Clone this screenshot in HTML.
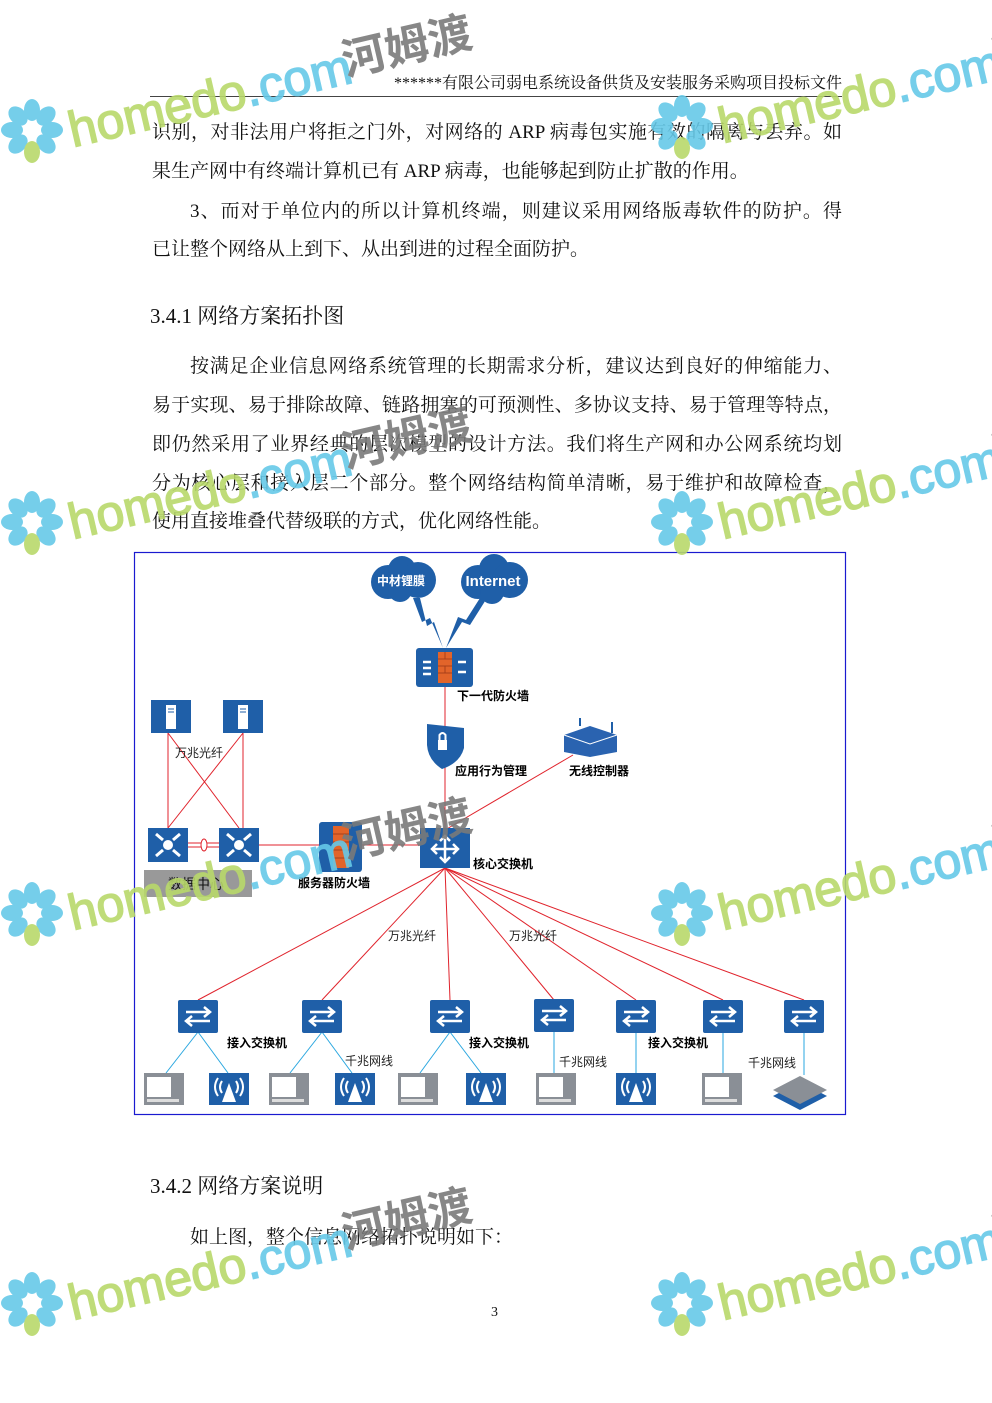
<!DOCTYPE html>
<html><head><meta charset="utf-8">
<style>
html,body{margin:0;padding:0;background:#fff;}
body{width:992px;height:1403px;position:relative;overflow:hidden;font-family:"Liberation Serif","Noto Serif CJK SC",serif;color:#111;}
.t{position:absolute;left:152px;width:690px;font-size:19px;line-height:22px;white-space:nowrap;}
.j{text-align:justify;text-align-last:justify;}
.hd{position:absolute;right:150px;top:74px;font-size:16px;line-height:20px;}
.rule{position:absolute;left:150px;width:692px;top:96px;height:0;border-top:1.5px solid #444;}
.h{position:absolute;left:150px;font-size:21px;line-height:24px;}
svg{position:absolute;left:0;top:0;}
svg text{font-family:"Liberation Sans","Noto Sans CJK SC",sans-serif;}
</style></head><body>
<div class="hd">******有限公司弱电系统设备供货及安装服务采购项目投标文件</div>
<div class="rule"></div>
<div class="t j" style="top:122px">识别，对非法用户将拒之门外，对网络的 ARP 病毒包实施有效的隔离与丢弃。如</div>
<div class="t" style="top:161px">果生产网中有终端计算机已有 ARP 病毒，也能够起到防止扩散的作用。</div>
<div class="t j" style="top:201px;left:190px;width:652px">3、而对于单位内的所以计算机终端，则建议采用网络版毒软件的防护。得</div>
<div class="t" style="top:239px">已让整个网络从上到下、从出到进的过程全面防护。</div>
<div class="h" style="top:304px">3.4.1 网络方案拓扑图</div>
<div class="t j" style="top:356px;left:190px;width:652px">按满足企业信息网络系统管理的长期需求分析，建议达到良好的伸缩能力、</div>
<div class="t j" style="top:395px">易于实现、易于排除故障、链路拥塞的可预测性、多协议支持、易于管理等特点，</div>
<div class="t j" style="top:434px">即仍然采用了业界经典的层次模型的设计方法。我们将生产网和办公网系统均划</div>
<div class="t j" style="top:473px">分为核心层和接入层二个部分。整个网络结构简单清晰，易于维护和故障检查，</div>
<div class="t" style="top:511px">使用直接堆叠代替级联的方式，优化网络性能。</div>
<div class="h" style="top:1174px">3.4.2 网络方案说明</div>
<div class="t" style="top:1227px;left:190px">如上图，整个信息网络拓扑说明如下：</div>
<div style="position:absolute;left:491px;top:1305px;font-size:14px">3</div>

<svg width="992" height="1403" viewBox="0 0 992 1403">
<defs>
<g id="sw"><rect x="0" y="0" width="40" height="33" rx="2" fill="#1f5fa8"/>
<path d="M8 12 H32 M26 7 L32 12 L26 17 M32 21 H8 M14 16 L8 21 L14 26" stroke="#fff" stroke-width="2.5" fill="none"/></g>
<g id="pc"><rect x="0" y="0" width="40" height="32" fill="#8a8f96"/><rect x="3" y="4" width="24" height="20" fill="#fff"/><rect x="3" y="26" width="32" height="3" fill="#ddd"/></g>
<g id="ap"><rect x="0" y="0" width="40" height="32" fill="#1f5fa8"/><path d="M20 10 L13 29 H27 Z" fill="#fff"/><path d="M13 8 Q9 14 13 20 M27 8 Q31 14 27 20 M9 5 Q3 14 9 23 M31 5 Q37 14 31 23" stroke="#fff" stroke-width="2" fill="none"/></g>
<g id="dc"><rect x="0" y="0" width="40" height="34" fill="#1f5fa8"/><circle cx="20" cy="17" r="5" fill="#fff"/><path d="M8 6 L15 12 M32 6 L25 12 M8 28 L15 22 M32 28 L25 22" stroke="#fff" stroke-width="3"/></g>
<g id="srv"><rect x="0" y="0" width="40" height="33" fill="#1f5fa8"/><rect x="15" y="5" width="10" height="24" fill="#fff"/><path d="M17 9 H23 M17 12 H23" stroke="#1f5fa8"/></g>
<g id="fw"><rect x="0" y="0" width="57" height="39" rx="3" fill="#1f5fa8"/><rect x="22" y="4" width="14" height="31" fill="#e2642a"/><path d="M22 11 H36 M22 18 H36 M22 25 H36 M29 4 V11 M29 18 V25" stroke="#a83f1a"/><path d="M7 14 L15 14 M7 20 L15 20 M7 26 L15 26 M42 14 L50 14 M42 24 L50 24" stroke="#fff" stroke-width="2.5"/></g>
<g id="wm">
<g fill="#66c9e8">
<ellipse cx="0" cy="-20" rx="8" ry="11"/><ellipse cx="14" cy="-14" rx="8" ry="11" transform="rotate(45 14 -14)"/>
<ellipse cx="20" cy="0" rx="11" ry="8"/><ellipse cx="14" cy="14" rx="8" ry="11" transform="rotate(-45 14 14)"/>
<ellipse cx="-14" cy="-14" rx="8" ry="11" transform="rotate(-45 -14 -14)"/><ellipse cx="-20" cy="0" rx="11" ry="8"/>
<ellipse cx="-14" cy="14" rx="8" ry="11" transform="rotate(45 -14 14)"/>
</g>
<ellipse cx="0" cy="22" rx="8" ry="11" fill="#b8d96a"/>
<g transform="rotate(-13)">
<text x="36" y="26" font-size="50" fill="#b8d96a" stroke="#b8d96a" stroke-width="1.5">homedo<tspan fill="#66c9e8" stroke="#66c9e8">.com</tspan></text>
<text x="318" y="18" font-size="44" font-weight="bold" fill="#7a7a7a" font-family="Noto Sans CJK SC,sans-serif">河姆渡</text>
</g>
</g>
</defs>
<rect x="134.5" y="552.5" width="711" height="562" fill="none" stroke="#1a1ad0" stroke-width="1.2"/>
<g stroke="#e0232c" stroke-width="1" fill="none">
<line x1="445" y1="687" x2="445" y2="830"/>
<line x1="573" y1="755" x2="445" y2="830"/>
<line x1="168" y1="733" x2="168" y2="828"/><line x1="243" y1="733" x2="243" y2="828"/>
<line x1="168" y1="733" x2="239" y2="828"/><line x1="243" y1="733" x2="168" y2="828"/>
<line x1="259" y1="845" x2="420" y2="845"/>
<line x1="188" y1="843" x2="219" y2="843"/><line x1="188" y1="847" x2="219" y2="847"/>
<line x1="445" y1="868" x2="198" y2="1000"/><line x1="445" y1="868" x2="322" y2="1000"/>
<line x1="445" y1="868" x2="450" y2="1000"/><line x1="445" y1="868" x2="554" y2="1000"/>
<line x1="445" y1="868" x2="636" y2="1000"/><line x1="445" y1="868" x2="723" y2="1000"/>
<line x1="445" y1="868" x2="804" y2="1000"/>
</g>
<ellipse cx="204" cy="845" rx="3" ry="6" fill="#fff" stroke="#e0232c"/>
<g stroke="#2aa7e0" stroke-width="1">
<line x1="198" y1="1032" x2="166" y2="1073"/><line x1="198" y1="1032" x2="228" y2="1073"/>
<line x1="322" y1="1032" x2="290" y2="1073"/><line x1="322" y1="1032" x2="352" y2="1073"/>
<line x1="450" y1="1032" x2="420" y2="1073"/><line x1="450" y1="1032" x2="481" y2="1073"/>
<line x1="554" y1="1032" x2="554" y2="1073"/><line x1="636" y1="1032" x2="636" y2="1073"/>
<line x1="723" y1="1032" x2="723" y2="1073"/><line x1="804" y1="1032" x2="804" y2="1075"/>
</g>
<g fill="#1f5fa8">
<circle cx="388" cy="582" r="17"/><circle cx="402" cy="570" r="14"/><circle cx="418" cy="580" r="18"/><circle cx="400" cy="590" r="12"/>
<circle cx="478" cy="582" r="17"/><circle cx="494" cy="569" r="15"/><circle cx="510" cy="580" r="18"/><circle cx="492" cy="592" r="12"/>
<path d="M413 598 L422 622 L430 618 L443 648 L434 622 L427 626 L420 598 Z"/>
<path d="M480 598 L466 620 L458 617 L446 648 L462 622 L470 625 L487 598 Z"/>
</g>
<text x="401" y="585" fill="#fff" font-size="12" font-weight="bold" text-anchor="middle">中材锂膜</text>
<text x="493" y="586" fill="#fff" font-size="15" font-weight="bold" text-anchor="middle">Internet</text>
<use href="#fw" x="416" y="648"/>
<text x="457" y="700" font-size="12" font-weight="bold">下一代防火墙</text>
<path d="M427 724 L464 728 V748 Q460 763 442 769 Q428 760 427 745 Z" fill="#1f5fa8"/>
<rect x="438" y="740" width="9" height="10" fill="#fff"/><path d="M439.5 740 V735 Q442.5 731 445.5 735 V740" stroke="#fff" stroke-width="2" fill="none"/>
<text x="455" y="775" font-size="12" font-weight="bold">应用行为管理</text>
<path d="M564 735 L590 726 L617 735 V752 L590 757 L564 752 Z" fill="#2a63b0"/><path d="M564 735 L590 744 L617 735" stroke="#fff" fill="none"/><path d="M580 726 V718 M612 733 V722" stroke="#1f5fa8" stroke-width="2"/>
<text x="569" y="775" font-size="12" font-weight="bold">无线控制器</text>
<use href="#srv" x="151" y="700"/><use href="#srv" x="223" y="700"/>
<text x="175" y="757" font-size="12" fill="#222">万兆光纤</text>
<use href="#dc" x="148" y="828"/><use href="#dc" x="219" y="828"/>
<rect x="144" y="870" width="108" height="27" fill="#999"/>
<text x="168" y="889" font-size="14" fill="#111">数据中心</text>
<g transform="translate(319,822)"><rect width="43" height="50" rx="3" fill="#1f5fa8"/><rect x="14" y="4" width="16" height="42" fill="#e2642a"/><path d="M14 12 H30 M14 20 H30 M14 28 H30 M14 36 H30" stroke="#a83f1a"/></g>
<text x="298" y="887" font-size="12" font-weight="bold">服务器防火墙</text>
<rect x="420" y="828" width="50" height="40" fill="#1f5fa8"/>
<path d="M445 836 V862 M432 849 H458 M440 841 L445 836 L450 841 M440 857 L445 862 L450 857 M437 844 L432 849 L437 854 M453 844 L458 849 L453 854" stroke="#fff" stroke-width="2.5" fill="none"/>
<text x="473" y="868" font-size="12" font-weight="bold">核心交换机</text>
<text x="388" y="940" font-size="12" fill="#222">万兆光纤</text>
<text x="509" y="940" font-size="12" fill="#222">万兆光纤</text>
<use href="#sw" x="178" y="1000"/><use href="#sw" x="302" y="1000"/><use href="#sw" x="430" y="1000"/>
<use href="#sw" x="534" y="999"/><use href="#sw" x="616" y="1000"/><use href="#sw" x="703" y="1000"/><use href="#sw" x="784" y="1000"/>
<text x="227" y="1047" font-size="12" font-weight="bold">接入交换机</text>
<text x="469" y="1047" font-size="12" font-weight="bold">接入交换机</text>
<text x="648" y="1047" font-size="12" font-weight="bold">接入交换机</text>
<text x="345" y="1065" font-size="12" fill="#222">千兆网线</text>
<text x="559" y="1066" font-size="12" fill="#222">千兆网线</text>
<text x="748" y="1067" font-size="12" fill="#222">千兆网线</text>
<use href="#pc" x="144" y="1073"/><use href="#pc" x="269" y="1073"/><use href="#pc" x="398" y="1073"/><use href="#pc" x="536" y="1073"/><use href="#pc" x="702" y="1073"/>
<use href="#ap" x="209" y="1073"/><use href="#ap" x="335" y="1073"/><use href="#ap" x="466" y="1073"/><use href="#ap" x="616" y="1073"/>
<path d="M773 1096 L800 1082 L827 1096 L800 1110 Z" fill="#1f5fa8"/>
<path d="M773 1090 L800 1076 L827 1090 L800 1104 Z" fill="#8a8f96"/>
<g opacity="0.9">
<use href="#wm" x="32" y="130"/><use href="#wm" x="682" y="126"/>
<use href="#wm" x="32" y="522"/><use href="#wm" x="682" y="522"/>
<use href="#wm" x="32" y="913"/><use href="#wm" x="682" y="913"/>
<use href="#wm" x="32" y="1303"/><use href="#wm" x="682" y="1303"/>
</g>
</svg>
</body></html>
